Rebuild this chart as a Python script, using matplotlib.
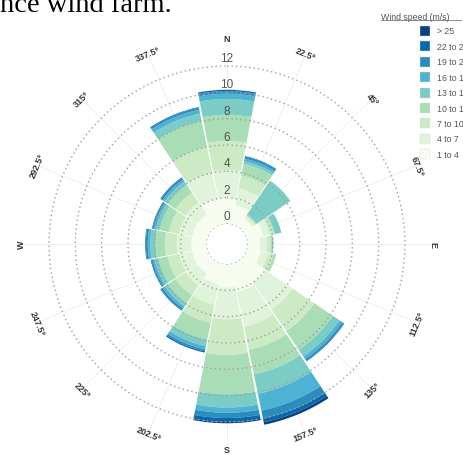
import numpy as np
import matplotlib
matplotlib.use("Agg")
import matplotlib.pyplot as plt
from matplotlib.lines import Line2D

# wind rose data: share of time (%) per direction and speed bin
directions = ["N", "NNE", "NE", "ENE", "E", "ESE", "SE", "SSE",
              "S", "SSW", "SW", "WSW", "W", "WNW", "NW", "NNW"]
speed_bins = ["1 to 4", "4 to 7", "7 to 10", "10 to 13", "13 to 16",
              "16 to 19", "19 to 22", "22 to 25", "> 25"]

freq_1_4   = [2.0, 1.5, 0.8, 1.3, 1.0, 1.1, 2.0, 2.2, 1.8, 1.6, 1.2, 1.2, 1.2, 1.2, 1.2, 2.0]
freq_4_7   = [2.1, 1.3, 0.2, 0.5, 0.5, 0.6, 2.5, 2.7, 2.4, 1.6, 1.1, 1.0, 1.1, 1.0, 1.1, 2.0]
freq_7_10  = [2.2, 1.0, 0.1, 0.3, 0.3, 0.4, 2.0, 1.8, 2.7, 1.4, 0.9, 0.9, 0.9, 0.8, 0.9, 2.0]
freq_10_13 = [2.0, 0.9, 0.1, 0.1, 0.1, 0.2, 1.7, 1.9, 3.0, 1.3, 0.7, 0.7, 0.7, 0.7, 0.7, 2.0]
freq_13_16 = [1.2, 0.2, 3.1, 0.5, 0.1, 0.0, 0.6, 1.5, 1.0, 0.5, 0.3, 0.3, 0.4, 0.3, 0.3, 0.6]
freq_16_19 = [0.4, 0.2, 0.0, 0.0, 0.0, 0.0, 0.25, 1.3, 0.4, 0.25, 0.2, 0.15, 0.2, 0.15, 0.2, 0.3]
freq_19_22 = [0.2, 0.15, 0.0, 0.0, 0.0, 0.0, 0.15, 0.6, 0.4, 0.15, 0.15, 0.1, 0.15, 0.1, 0.15, 0.15]
freq_22_25 = [0.1, 0.05, 0.0, 0.0, 0.0, 0.0, 0.05, 0.3, 0.3, 0.1, 0.05, 0.05, 0.05, 0.05, 0.05, 0.05]
freq_25    = [0.0, 0.0, 0.0, 0.0, 0.0, 0.0, 0.0, 0.2, 0.1, 0.0, 0.0, 0.0, 0.0, 0.0, 0.0, 0.0]

freqs = [freq_1_4, freq_4_7, freq_7_10, freq_10_13, freq_13_16,
         freq_16_19, freq_19_22, freq_22_25, freq_25]
colors = ["#f7fcf0", "#e0f3db", "#ccebc5", "#a8ddb5", "#7bccc4",
          "#4eb3d3", "#2b8cbe", "#0868ac", "#084081"]

radial_ticks = [0, 2, 4, 6, 8, 10, 12]
angle_labels = ["N", "22.5°", "45°", "67.5°", "E", "112.5°", "135°", "157.5°",
                "S", "202.5°", "225°", "247.5°", "W", "292.5°", "315°", "337.5°"]

plt.rcParams["font.family"] = ["Liberation Sans", "DejaVu Sans"]

fig = plt.figure(figsize=(4.63, 4.56), dpi=100)
ax = fig.add_axes([0.049, 0.0147, 0.8825, 0.896], projection="polar")
ax.set_theta_zero_location("N")
ax.set_theta_direction(-1)
ax.set_rorigin(-1.52)
ax.set_ylim(0, 14)
for name in ["polar", "start", "end", "inner"]:
    if name in ax.spines:
        ax.spines[name].set_visible(False)
        ax.spines[name].set_linewidth(0)
ax.patch.set_edgecolor("none")
ax.grid(False)
ax.set_xticks([])
ax.set_yticks([])

theta = np.deg2rad(np.arange(16) * 22.5)
width = np.deg2rad(22.5) * 0.965

# angular grid lines (under the bars)
for t in theta:
    ax.plot([t, t], [0, 14], color="#efefef", lw=0.7, zorder=0.5)

bottom = np.zeros(16)
for vals, c, lab in zip(freqs, colors, speed_bins):
    vals = np.array(vals)
    ax.bar(theta, vals, width=width, bottom=bottom, color=c, linewidth=0,
           zorder=1, label=lab)
    bottom += vals

# dotted radial circles drawn above the bars
circ = np.linspace(0, 2 * np.pi, 400)
for r in radial_ticks:
    ax.plot(circ, np.full_like(circ, r + 0.001), color="#a89c9c", lw=1.0,
            linestyle=(0, (1, 2.2)), zorder=3)
    ax.text(0, r + 0.62, str(r), ha="center", va="center", fontsize=8.5,
            color="#555555", zorder=4)

# compass / degree labels, rotated along the circle
for t, lab in zip(np.arange(16) * 22.5, angle_labels):
    rot = -t
    if 90 < t < 270:
        rot += 180
    ax.text(np.deg2rad(t), 14.1, lab, ha="center", va="center", rotation=rot,
            rotation_mode="anchor", fontsize=6.5, fontweight="bold",
            color="#333333", clip_on=False)

# legend drawn by hand at the top right (cut off by the image edge)
fig.text(381 / 463, 1 - 17 / 456, "Wind speed (m/s)", fontsize=6.3,
         color="#555555", va="center", ha="left")
fig.add_artist(Line2D([381 / 463, 461 / 463], [1 - 21 / 456, 1 - 21 / 456],
                      color="#777777", lw=0.6))
for i, (c, lab) in enumerate(zip(colors[::-1], speed_bins[::-1])):
    yc = 32 + i * 15.4
    fig.add_artist(plt.Rectangle((420 / 463, 1 - (yc + 5) / 456), 10 / 463,
                                 10 / 456, facecolor=c, edgecolor="#dddddd",
                                 lw=0.3))
    fig.text(437 / 463, 1 - yc / 456, lab, fontsize=6.3, color="#555555",
             va="center", ha="left")

# caption fragment from the source document
fig.text(0.0, 1 - 12 / 456, "nce wind farm.", fontsize=20.5,
         family=["Liberation Serif", "DejaVu Serif"], va="baseline",
         ha="left", color="black")

fig.savefig("out.png", dpi=100)
